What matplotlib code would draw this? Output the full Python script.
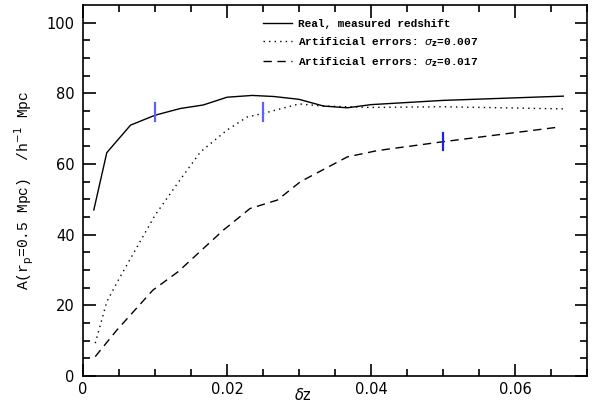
import numpy as np
import matplotlib.pyplot as plt

# real, measured redshift
dz_real = [0.0015, 0.0033, 0.0066, 0.010, 0.0135, 0.0167, 0.020, 0.0235, 0.0265,
           0.030, 0.0334, 0.0367, 0.040, 0.050, 0.0667]
a_real = [47.0, 63.2, 71.0, 73.8, 75.7, 76.7, 78.9, 79.4, 79.1,
          78.3, 76.4, 75.9, 76.8, 78.0, 79.2]

# artificial errors sigma_z = 0.007
dz_007 = [0.0017, 0.0033, 0.005, 0.010, 0.0133, 0.0163, 0.020, 0.0228, 0.025,
          0.030, 0.0334, 0.040, 0.050, 0.0667]
a_007 = [9.3, 21.0, 27.5, 45.5, 55.0, 63.4, 69.6, 73.3, 74.3,
         77.0, 76.4, 76.0, 76.2, 75.6]

# artificial errors sigma_z = 0.017
dz_017 = [0.0017, 0.0047, 0.0097, 0.0132, 0.0195, 0.0232, 0.027, 0.0302,
          0.0367, 0.0409, 0.050, 0.0663]
a_017 = [5.5, 13.0, 24.3, 29.5, 41.3, 47.4, 49.8, 55.0,
         62.0, 63.8, 66.3, 70.5]

# error bars
err_x = [0.010, 0.025, 0.050]
err_y = [74.8, 74.8, 66.4]
err_h = [2.5, 2.5, 2.4]
err_c = ['#6060ff', '#6060ff', '#2020e0']

fig = plt.figure(figsize=(5.99, 4.09), dpi=100)
ax = fig.add_axes([0.1386, 0.0807, 0.8414, 0.9071])

ax.plot(dz_real, a_real, color='black', lw=1.0, ls='-',
        label='Real, measured redshift')
ax.plot(dz_007, a_007, color='black', lw=1.0, ls=(0, (1, 3)),
        label=r'Artificial errors: $\sigma_{\mathbf{z}}$=0.007')
ax.plot(dz_017, a_017, color='black', lw=1.0, ls=(0, (6, 4)),
        label=r'Artificial errors: $\sigma_{\mathbf{z}}$=0.017')

for x, y, h, c in zip(err_x, err_y, err_h, err_c):
    ax.plot([x, x], [y - h, y + h], color=c, lw=1.6)

ax.set_xlim(0, 0.07)
ax.set_ylim(0, 105)
ax.set_xticks([0, 0.02, 0.04, 0.06])
ax.set_xticklabels(['0', '0.02', '0.04', '0.06'])
ax.set_xticks(np.arange(0, 0.0701, 0.005), minor=True)
ax.set_yticks([0, 20, 40, 60, 80, 100])
ax.set_yticks(np.arange(0, 105, 5), minor=True)
ax.tick_params(which='both', direction='in', top=True, right=True, width=1.2)
ax.tick_params(which='major', length=9, labelsize=10.5)
ax.tick_params(axis='x', which='major', pad=4)
ax.tick_params(axis='y', which='major', pad=6)
ax.tick_params(which='minor', length=5)
for s in ax.spines.values():
    s.set_linewidth(1.2)

ax.set_xlabel(r'$\delta$z', fontsize=10.5)
ax.xaxis.set_label_coords(0.437, -0.03)
ax.set_ylabel(r'A(r$_{\mathrm{p}}$=0.5 Mpc)  /h$^{-1}$ Mpc',
              family='Liberation Mono', fontsize=10.5, labelpad=8)

leg = ax.legend(loc='upper left', bbox_to_anchor=(0.337, 0.99), frameon=False,
                prop={'family': 'Liberation Mono', 'size': 8.0, 'weight': 'bold'},
                handlelength=2.6, labelspacing=0.55, handletextpad=0.55)

fig.savefig('out.png', dpi=100)
